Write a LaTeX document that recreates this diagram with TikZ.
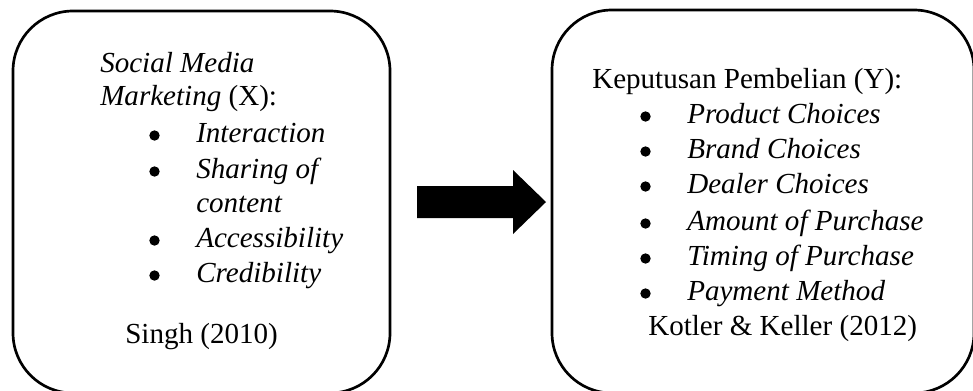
\documentclass[tikz,border=0pt]{standalone}
\usepackage{fontspec}
\setmainfont{Liberation Serif}
\usetikzlibrary{positioning}

\begin{document}
\begin{tikzpicture}[
			x=0.75pt, y=-0.75pt,
			frame/.style = {draw, line width=2pt, rounded corners=45pt},
			line/.style  = {anchor=base west, inner sep=0pt, font=\fontsize{21.8}{26}\selectfont},
			item/.style  = {line, font=\fontsize{21.8}{26}\selectfont\itshape},
			dot/.style   = {circle, fill, inner sep=0pt, minimum size=7.8pt}
			]
			\useasboundingbox (0,0) rectangle (973,390);

			% frames
			\draw[frame] (13,11) rectangle (390,393);
			\draw[frame] (552,10) rectangle (974,393);

			% variable X
			\node[item] (smm) at (100,72) {Social Media};
			\node[line] (x) at (100,105) {\textit{Marketing} (X):};
			\foreach \n/\t/\y in {x1/Interaction/142, x2/Sharing of/178, x3/Accessibility/247, x4/Credibility/282} {
					\node[dot] at (154.5,\y-6.5) {};
					\node[item] (\n) at (196,\y) {\t};
				}
			\node[item] (x2b) at (196,212) {content};
			\node[line] (singh) at (125,343) {Singh (2010)};

			% variable Y
			\node[line] (y) at (592,88) {Keputusan Pembelian (Y):};
			\foreach \n/\t/\y in {y1/Product Choices/123, y2/Brand Choices/158, y3/Dealer Choices/193,
					y4/Amount of Purchase/230, y5/Timing of Purchase/265, y6/Payment Method/300} {
					\node[dot] at (645.5,\y-6.5) {};
					\node[item] (\n) at (687,\y) {\t};
				}
			\node[line] (kotler) at (648,335) {Kotler \& Keller (2012)};

			% arrow
			\fill (417,186) -- (513,186) -- (513,170) -- (546,202) -- (513,234) -- (513,218) -- (417,218) -- cycle;
		\end{tikzpicture}
\end{document}
